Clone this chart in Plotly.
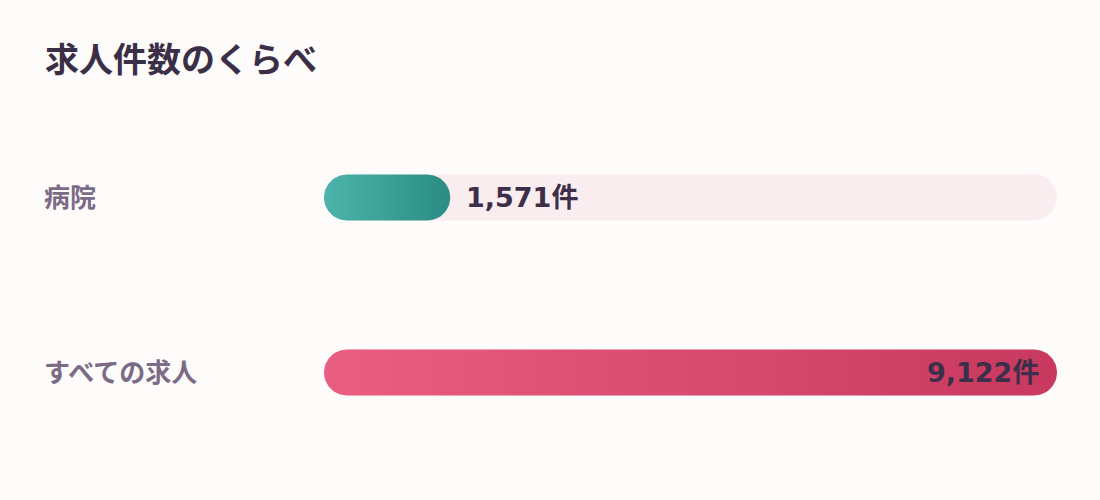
import numpy as np
import plotly.graph_objects as go

# ---- data ----
categories = ["病院", "すべての求人"]
values = [1571, 9122]
value_labels = ["1,571件", "9,122件"]
title_text = "求人件数のくらべ"

# ---- style ----
BG = "#fefcfb"
TRACK = "#f9edf0"
GRADIENTS = [("#4cb4aa", "#2a8c82"), ("#e95e81", "#c8385f")]
LABEL_COLOR = "#7b6b86"
VALUE_COLOR = "#3d2f4a"
TITLE_COLOR = "#3b2f48"
FONT = "DejaVu Sans, Noto Sans CJK JP, sans-serif"

W, H = 1100, 500
ML, MR, MT, MB = 324, 43, 110, 40
PW = W - ML - MR
PH = H - MT - MB
XMAX = max(values)
Y_UNITS = 2.0  # range [-0.5, 1.5]
BAR_PX = 46
half_h = (BAR_PX / 2) / (PH / Y_UNITS)
rx = (BAR_PX / 2) * XMAX / PW


def pill(x_end, yc):
    r = min(rx, x_end / 2)
    t1 = np.linspace(-np.pi / 2, np.pi / 2, 40)
    t2 = np.linspace(np.pi / 2, 3 * np.pi / 2, 40)
    xs = list(x_end - r + r * np.cos(t1)) + list(r + r * np.cos(t2))
    ys = list(yc + half_h * np.sin(t1)) + list(yc + half_h * np.sin(t2))
    xs.append(xs[0]); ys.append(ys[0])
    return xs, ys


fig = go.Figure()
for i, (cat, v) in enumerate(zip(categories, values)):
    tx, ty = pill(XMAX, i)
    fig.add_trace(go.Scatter(x=tx, y=ty, fill="toself", fillcolor=TRACK,
                             mode="lines", line=dict(width=0), hoverinfo="skip",
                             showlegend=False))
    bx, by = pill(v, i)
    c0, c1 = GRADIENTS[i]
    fig.add_trace(go.Scatter(x=bx, y=by, fill="toself",
                             fillgradient=dict(type="horizontal",
                                               colorscale=[[0, c0], [1, c1]]),
                             mode="lines", line=dict(width=0), hoverinfo="skip",
                             showlegend=False))
    inside = v / XMAX > 0.8
    fig.add_annotation(x=v, y=i, xref="x", yref="y", text=value_labels[i],
                       showarrow=False,
                       xanchor="right" if inside else "left",
                       xshift=-16 if inside else 14,
                       font=dict(family=FONT, size=27, color=VALUE_COLOR,
                                 weight="bold"))
    fig.add_annotation(x=-(ML - 42) / PW, y=i, xref="paper", yref="y",
                       text=cat, showarrow=False, xanchor="left",
                       font=dict(family=FONT, size=26, color=LABEL_COLOR,
                                 weight="bold"))

fig.update_layout(
    width=W, height=H,
    margin=dict(l=ML, r=MR, t=MT, b=MB),
    paper_bgcolor=BG, plot_bgcolor=BG,
    title=dict(text=title_text, x=45 / W, xanchor="left", xref="container",
               y=1 - 60 / H, yanchor="middle", yref="container",
               font=dict(family=FONT, size=34, color=TITLE_COLOR,
                         weight="bold")),
    xaxis=dict(range=[0, XMAX], visible=False, fixedrange=True),
    yaxis=dict(range=[1.5, -0.5], visible=False, fixedrange=True),
    hovermode=False,
)

fig.write_html(
    "out.html",
    config={"displayModeBar": False},
    post_script="document.body.style.margin='0';"
                "document.body.style.background='" + BG + "';",
)
